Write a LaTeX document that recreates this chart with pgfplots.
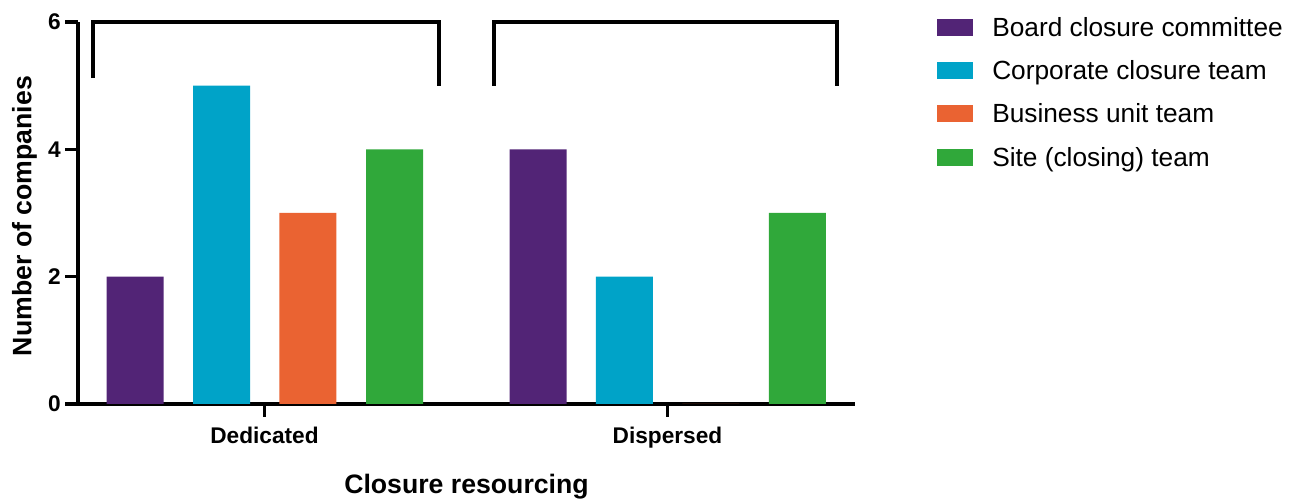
\documentclass[border=0pt]{standalone}
\usepackage{fontspec}
\setmainfont{Liberation Sans}
\usepackage{pgfplots}
\pgfplotsset{compat=1.18}

\definecolor{cPurple}{RGB}{82,36,118}
\definecolor{cCyan}{RGB}{0,163,200}
\definecolor{cOrange}{RGB}{234,99,50}
\definecolor{cGreen}{RGB}{48,168,58}

\begin{document}
\begin{tikzpicture}
\begin{axis}[
	scale only axis,
	width=582.75pt, height=286.5pt,
	xmin=-0.4628, xmax=1.4653,
	ymin=0, ymax=6,
	clip=false,
	axis x line=bottom, axis y line=left,
	axis line style={line width=3.5pt, -},
	bar width=42.75pt,
	xtick={0,1}, xticklabels={Dedicated,Dispersed},
	ytick={0,2,4,6},
	tick align=outside,
	major tick length=9.5pt,
	tick style={line width=2.4pt, black},
	ticklabel style={font=\bfseries\fontsize{17}{20}\selectfont},
	xticklabel style={yshift=-4pt},
	/pgf/number format/assume math mode=true,
	xlabel={Closure resourcing},
	ylabel={Number of companies},
	label style={font=\bfseries\fontsize{20}{24}\selectfont},
	xlabel style={at={(axis description cs:0.5,-0.2356)}, anchor=base},
	ylabel style={at={(axis description cs:-0.0688,0.492)}, anchor=center},
	legend style={at={(1,1)}, anchor=north west, xshift=61.5pt, yshift=5.5pt,
		draw=none, fill=none, inner sep=0pt,
		font=\fontsize{19.7}{23}\selectfont,
		nodes={inner sep=0pt, text height=16pt, text depth=2.5pt},
		row sep=14pt,
		/tikz/every odd column/.append style={column sep=14.25pt}},
	legend cell align=left,
	legend image code/.code={\fill[#1] (0pt,-6.4pt) rectangle (27pt,6.4pt);},
]
\addplot[ybar, fill=cPurple, draw=none, bar shift=-97.1pt] coordinates {(0,2) (1,4)};
\addplot[ybar, fill=cCyan, draw=none, bar shift=-32.25pt] coordinates {(0,5) (1,2)};
\addplot[ybar, fill=cOrange, draw=none, bar shift=32.6pt] coordinates {(0,3) (1,0)};
\addplot[ybar, fill=cGreen, draw=none, bar shift=97.5pt] coordinates {(0,4) (1,3)};
\legend{Board closure committee, Corporate closure team, Business unit team, Site (closing) team}

% group brackets
\addplot[sharp plot, black, line width=3.2pt, no marks, forget plot]
	coordinates {(-0.425,5.12) (-0.425,6) (0.433,6) (0.433,5)};
\addplot[sharp plot, black, line width=3.2pt, no marks, forget plot]
	coordinates {(0.570,5) (0.570,6) (1.420,6) (1.420,5)};

\coordinate (o) at (rel axis cs:0,0);
\end{axis}
\pgfresetboundingbox
\path[use as bounding box] ([shift={(-58.5pt,-71.25pt)}]o) rectangle ([shift={(910.5pt,303pt)}]o);
\end{tikzpicture}
\end{document}
